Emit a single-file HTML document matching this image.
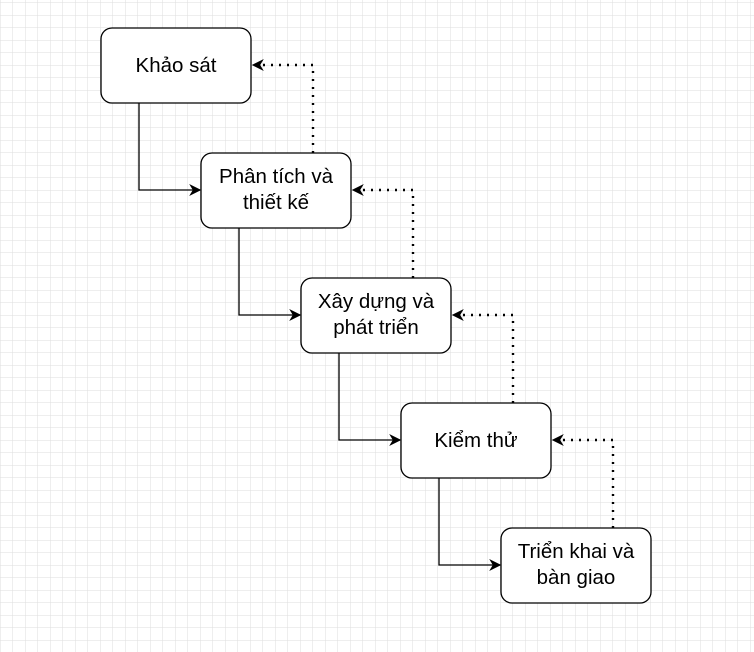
<!DOCTYPE html>
<html><head><meta charset="utf-8"><style>
html,body{margin:0;padding:0;background:#fff;}
svg{display:block}
text{font-family:"Liberation Sans",Arial,sans-serif;font-size:20.5px;fill:#000;text-anchor:middle}
</style></head><body>
<svg width="754" height="652" viewBox="0 0 754 652" xmlns="http://www.w3.org/2000/svg">
<defs>
<pattern id="g" x="0.5" y="3" width="12.5" height="12.5" patternUnits="userSpaceOnUse">
<path d="M12.5 0V12.5M0 12.5H12.5" stroke="#dedede" stroke-width="1" fill="none"/>
</pattern>
<marker id="a" viewBox="0 0 10 10" refX="9" refY="5" markerWidth="12" markerHeight="12" markerUnits="userSpaceOnUse" orient="auto">
<path d="M0 0L10 5L0 10L3 5z" fill="#000"/>
</marker>
</defs>
<rect width="754" height="652" fill="url(#g)"/>
<g fill="none" stroke="#000" stroke-width="1.3">
<path d="M139 103V190H200" marker-end="url(#a)"/>
<path d="M239 228V315H300" marker-end="url(#a)"/>
<path d="M339 353V440H400" marker-end="url(#a)"/>
<path d="M439 478V565H500" marker-end="url(#a)"/>
</g>
<g fill="none" stroke="#000" stroke-width="2.4" stroke-dasharray="2 6">
<path d="M313 153V65H253" marker-end="url(#a)"/>
<path d="M413 278V190H353" marker-end="url(#a)"/>
<path d="M513 403V315H453" marker-end="url(#a)"/>
<path d="M613 528V440H553" marker-end="url(#a)"/>
</g>
<g fill="#fff" stroke="#000" stroke-width="1.3">
<rect x="101" y="28" width="150" height="75" rx="11"/>
<rect x="201" y="153" width="150" height="75" rx="11"/>
<rect x="301" y="278" width="150" height="75" rx="11"/>
<rect x="401" y="403" width="150" height="75" rx="11"/>
<rect x="501" y="528" width="150" height="75" rx="11"/>
</g>
<text x="176" y="72">Khảo sát</text>
<text x="276" y="183">Phân tích và</text>
<text x="276" y="209">thiết kế</text>
<text x="376" y="308">Xây dựng và</text>
<text x="376" y="334">phát triển</text>
<text x="476" y="447">Kiểm thử</text>
<text x="576" y="558">Triển khai và</text>
<text x="576" y="584">bàn giao</text>
</svg>
</body></html>
